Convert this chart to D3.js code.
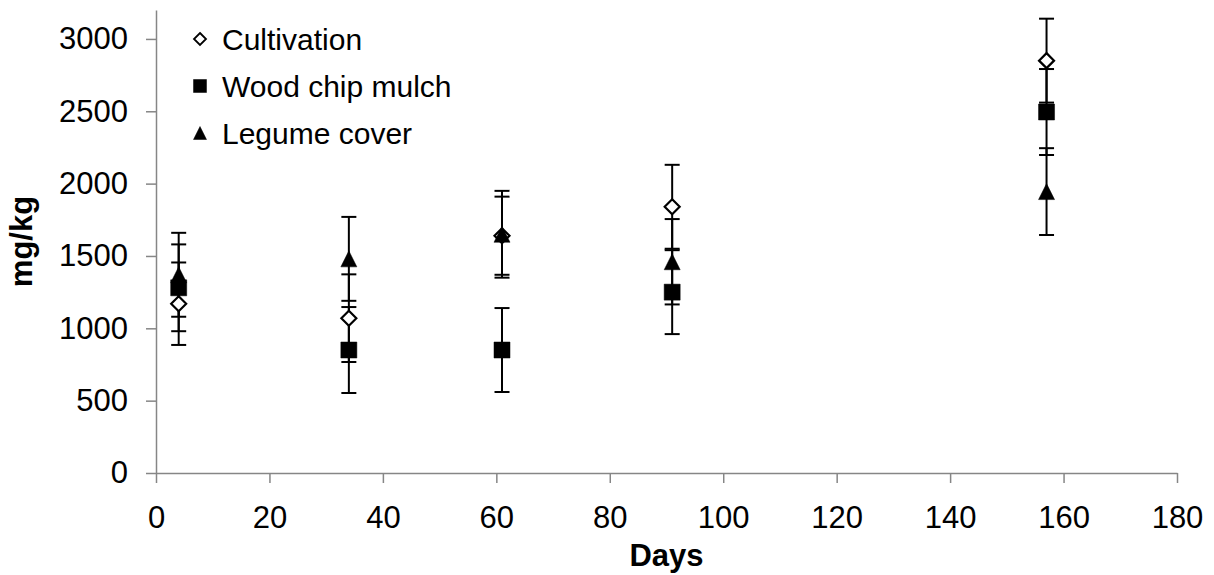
<!DOCTYPE html>
<html>
<head>
<meta charset="utf-8">
<script src="https://cdn.jsdelivr.net/npm/d3@7"></script>
<style>
  body { margin: 0; background: #fff; }
  text { font-family: "Liberation Sans", Arial, sans-serif; fill: #000; }
</style>
</head>
<body>
<div id="chart"></div>
<script>
// data
const days = [4, 34, 61, 91, 157];
const cultivation = [1170, 1070, 1640, 1840, 2850];
const cultivationErr = [285, 303, 270, 290, 290];
const woodChip = [1280, 850, 850, 1250, 2495];
const woodChipErr = [300, 297, 290, 290, 297];
const legume = [1370, 1480, 1650, 1460, 1945];
const legumeErr = [290, 290, 300, 295, 300];
const xTicks = [0, 20, 40, 60, 80, 100, 120, 140, 160, 180];
const yTicks = [0, 500, 1000, 1500, 2000, 2500, 3000];

const series = [
  { title: "Cultivation", shape: "diamond", values: cultivation, err: cultivationErr },
  { title: "Wood chip mulch", shape: "square", values: woodChip, err: woodChipErr },
  { title: "Legume cover", shape: "triangle", values: legume, err: legumeErr }
];

const width = 1214;
const height = 575;
const margin = { top: 10, right: 37, bottom: 102, left: 156 };

const xScale = d3.scaleLinear().domain([0, 180]).range([margin.left, width - margin.right]);
const yScale = d3.scaleLinear().domain([0, 3200]).range([height - margin.bottom, margin.top]);

const svg = d3.select("#chart").append("svg")
  .attr("width", width)
  .attr("height", height);

// marker shapes, centred on 0,0
function shapePath(shape, s) {
  const p = d3.path();
  const h = s / 2;
  if (shape === "diamond") {
    p.moveTo(0, -h); p.lineTo(h, 0); p.lineTo(0, h); p.lineTo(-h, 0); p.closePath();
  } else if (shape === "square") {
    p.rect(-h, -h, s, s);
  } else {
    p.moveTo(0, -h); p.lineTo(h, h); p.lineTo(-h, h); p.closePath();
  }
  return p.toString();
}

// axes
const yAxis = d3.axisLeft(yScale).tickValues(yTicks).tickFormat(d3.format("d"))
  .tickSize(10).tickSizeOuter(0).tickPadding(18);
const xAxis = d3.axisBottom(xScale).tickValues(xTicks).tickFormat(d3.format("d"))
  .tickSize(10).tickSizeOuter(0).tickPadding(23);

const gy = svg.append("g")
  .attr("transform", `translate(${margin.left},0)`)
  .call(yAxis);
const gx = svg.append("g")
  .attr("transform", `translate(0,${yScale(0)})`)
  .call(xAxis);

[gx, gy].forEach(g => {
  g.selectAll("path, line").attr("stroke", "#868686").attr("stroke-width", 1.5);
  g.selectAll("text").style("font-size", "31px").attr("fill", "#000");
});

svg.append("text")
  .attr("transform", `translate(32,${(margin.top + yScale(0)) / 2}) rotate(-90)`)
  .attr("text-anchor", "middle")
  .style("font-size", "31px")
  .style("font-weight", "bold")
  .text("mg/kg");

svg.append("text")
  .attr("x", (xScale(0) + xScale(180)) / 2)
  .attr("y", 566)
  .attr("text-anchor", "middle")
  .style("font-size", "31px")
  .style("font-weight", "bold")
  .text("Days");

// error bars first, then markers on top
const capHalf = 7.5;
const bars = svg.append("g").attr("class", "errorbars");
series.forEach(s => {
  s.values.forEach((v, i) => {
    const x = xScale(days[i]);
    const y1 = yScale(v + s.err[i]);
    const y0 = yScale(v - s.err[i]);
    const g = bars.append("g").attr("stroke", "#000").attr("stroke-width", 2);
    g.append("line").attr("x1", x).attr("x2", x).attr("y1", y1).attr("y2", y0);
    g.append("line").attr("x1", x - capHalf).attr("x2", x + capHalf).attr("y1", y1).attr("y2", y1);
    g.append("line").attr("x1", x - capHalf).attr("x2", x + capHalf).attr("y1", y0).attr("y2", y0);
  });
});

const marks = svg.append("g").attr("class", "marks");
series.forEach(s => {
  marks.selectAll(null)
    .data(s.values)
    .enter()
    .append("path")
    .attr("transform", (d, i) => `translate(${xScale(days[i])},${yScale(d)})`)
    .attr("d", shapePath(s.shape, s.shape === "diamond" ? 15 : 16))
    .attr("fill", s.shape === "diamond" ? "#fff" : "#000")
    .attr("stroke", "#000")
    .attr("stroke-width", s.shape === "diamond" ? 2.2 : 0.5);
});

// legend
const legend = svg.append("g").attr("class", "legend");
series.forEach((s, i) => {
  const cy = 39 + i * 47;
  legend.append("path")
    .attr("transform", `translate(200,${cy})`)
    .attr("d", shapePath(s.shape, s.shape === "diamond" ? 12 : 13))
    .attr("fill", s.shape === "diamond" ? "#fff" : "#000")
    .attr("stroke", "#000")
    .attr("stroke-width", s.shape === "diamond" ? 1.8 : 0.5);
  legend.append("text")
    .attr("x", 222)
    .attr("y", cy)
    .attr("dy", "0.36em")
    .style("font-size", "30px")
    .text(s.title);
});
</script>
</body>
</html>
